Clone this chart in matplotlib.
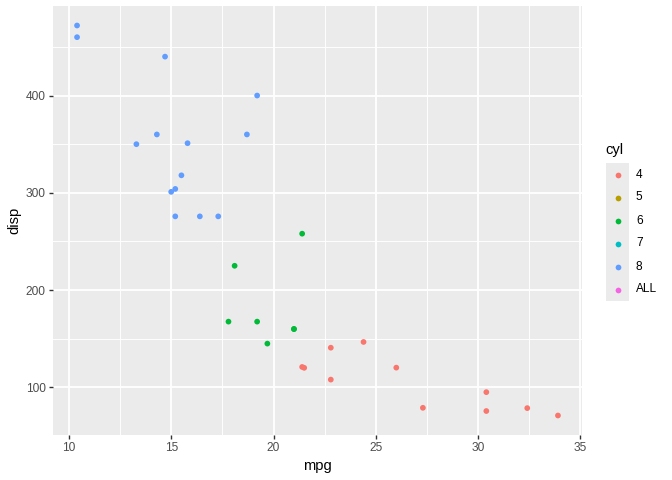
import numpy as np
import matplotlib.pyplot as plt
from matplotlib.patches import Rectangle

plt.rcParams['font.family'] = ['Liberation Sans', 'DejaVu Sans']

# mtcars: mpg, disp, cyl
mpg = [21.0, 21.0, 22.8, 21.4, 18.7, 18.1, 14.3, 24.4, 22.8, 19.2, 17.8,
       16.4, 17.3, 15.2, 10.4, 10.4, 14.7, 32.4, 30.4, 33.9, 21.5, 15.5,
       15.2, 13.3, 19.2, 27.3, 26.0, 30.4, 15.8, 19.7, 15.0, 21.4]
disp = [160, 160, 108, 258, 360, 225, 360, 146.7, 140.8, 167.6, 167.6,
        275.8, 275.8, 275.8, 472, 460, 440, 78.7, 75.7, 71.1, 120.1, 318,
        304, 350, 400, 79, 120.3, 95.1, 351, 145, 301, 121]
cyl = ['6', '6', '4', '6', '8', '6', '8', '4', '4', '6', '6',
       '8', '8', '8', '8', '8', '8', '4', '4', '4', '4', '8',
       '8', '8', '8', '4', '4', '4', '8', '6', '8', '4']

levels = ['4', '5', '6', '7', '8', 'ALL']
palette = ['#F8766D', '#B79F00', '#00BA38', '#00BFC4', '#619CFF', '#F564E3']
colour_of = dict(zip(levels, palette))

fig = plt.figure(figsize=(6.72, 4.8), dpi=100)
ax = fig.add_axes([53 / 672, 1 - 435 / 480, (582 - 53) / 672, (435 - 6) / 480])
ax.set_facecolor('#EBEBEB')
for s in ax.spines.values():
    s.set_visible(False)

ax.scatter(mpg, disp, c=[colour_of[c] for c in cyl], s=17, linewidths=0, zorder=3)

xr = max(mpg) - min(mpg)
yr = max(disp) - min(disp)
ax.set_xlim(min(mpg) - 0.05 * xr, max(mpg) + 0.05 * xr)
ax.set_ylim(min(disp) - 0.05 * yr, max(disp) + 0.05 * yr)

ax.set_xticks([10, 15, 20, 25, 30, 35])
ax.set_yticks([100, 200, 300, 400])
ax.set_xticks([12.5, 17.5, 22.5, 27.5, 32.5], minor=True)
ax.set_yticks([150, 250, 350, 450], minor=True)
ax.grid(which='major', color='white', linewidth=1.35)
ax.grid(which='minor', color='white', linewidth=0.68)
ax.set_axisbelow(True)
ax.tick_params(which='major', length=2.7, width=1.0, color='#333333',
               labelcolor='#4D4D4D', labelsize=8.6, pad=2.5)
ax.tick_params(which='minor', length=0)
ax.set_xlabel('mpg', fontsize=10.6, color='black', labelpad=3.5)
ax.set_ylabel('disp', fontsize=10.6, color='black', labelpad=3)

# legend drawn in its own axes (pixel-based layout)
lax = fig.add_axes([0, 0, 1, 1])
lax.set_xlim(0, 672)
lax.set_ylim(480, 0)
lax.axis('off')
lax.text(605, 150, 'cyl', fontsize=10.6, va='center', ha='left')
key_top, key_h = 163, 23
lax.add_patch(Rectangle((606, key_top), 23, key_h * len(levels),
                        facecolor='#EBEBEB', edgecolor='none'))
for i, lev in enumerate(levels):
    yc = key_top + key_h * (i + 0.5)
    lax.scatter([617.5], [yc], s=17, color=colour_of[lev], linewidths=0)
    lax.text(636, yc, lev, fontsize=8.6, va='center', ha='left')

fig.savefig('out.png', dpi=100)
